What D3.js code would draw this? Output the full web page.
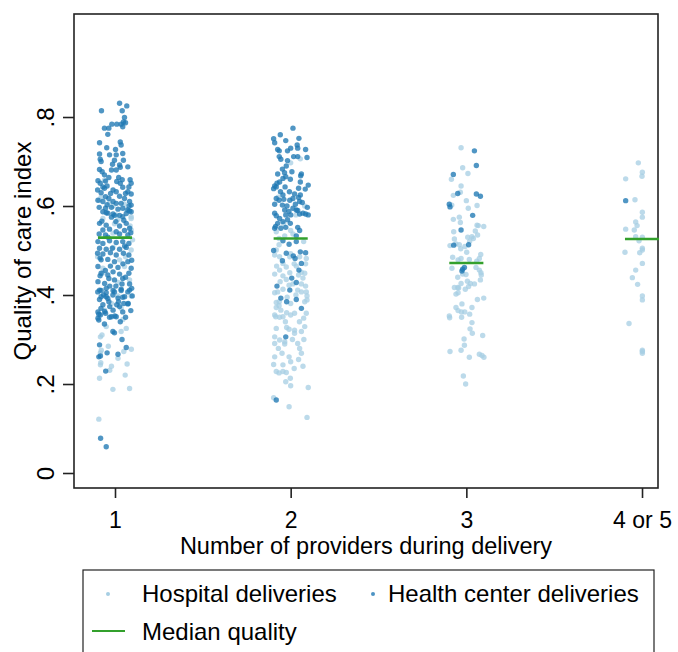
<!DOCTYPE html>
<html>
<head>
<meta charset="utf-8">
<script src="https://cdn.jsdelivr.net/npm/d3@7"></script>
<style>
  body { margin: 0; background: #fff; }
  svg { font-family: "Liberation Sans", Arial, sans-serif; }
</style>
</head>
<body>
<div id="chart"></div>
<script>
// categories and labels
var groups = [1, 2, 3, 4];
var groupLabels = ["1", "2", "3", "4 or 5"];
var yTicks = [0, 0.2, 0.4, 0.6, 0.8];
var yTickLabels = ["0", ".2", ".4", ".6", ".8"];
var medians = [0.529, 0.527, 0.472, 0.526];

// points: [jitter, quality]
var hosp1 = [[-0.088,0.613],[0.092,0.576],[0.092,0.546],[0.100,0.524],[0.007,0.580],[-0.060,0.658],[-0.031,0.607],[0.064,0.591],
  [-0.099,0.486],[-0.071,0.449],[0.060,0.486],[0.083,0.434],[-0.079,0.620],[-0.011,0.600],[0.054,0.604],
  [-0.069,0.572],[0.017,0.570],[0.092,0.572],[-0.003,0.560],[0.086,0.555],[-0.011,0.539],[-0.011,0.507],[0.092,0.501],
  [0.026,0.479],[-0.069,0.460],[0.054,0.464],[0.017,0.428],[0.017,0.398],[0.092,0.398],[-0.020,0.381],[-0.050,0.329],
  [0.035,0.318],[0.064,0.325],[-0.083,0.306],[-0.074,0.310],[-0.038,0.285],[0.093,0.278],[-0.083,0.270],
  [-0.078,0.276],[0.050,0.273],[0.017,0.258],[-0.081,0.248],[-0.083,0.243],[-0.020,0.240],[0.069,0.245],[-0.030,0.231],
  [0.058,0.220],[-0.088,0.213],[-0.012,0.188],[0.083,0.190],[-0.092,0.121],[0.035,0.370],[-0.059,0.366],[0.045,0.345]];

var center1 = [[0.026,0.831],[0.067,0.825],[-0.077,0.814],[0.041,0.814],[0.054,0.799],[0.048,0.789],[-0.018,0.784],[0.010,0.784],
  [0.035,0.784],[0.060,0.787],[-0.060,0.775],[-0.035,0.775],[0.044,0.778],[-0.041,0.761],[-0.088,0.742],[0.030,0.744],
  [0.035,0.737],[-0.047,0.731],[0.003,0.727],[-0.088,0.717],[0.044,0.718],[-0.031,0.715],[0.007,0.715],[-0.084,0.705],
  [-0.079,0.700],[-0.003,0.703],[0.048,0.703],[-0.014,0.694],[0.026,0.692],[0.073,0.688],[-0.088,0.682],[-0.073,0.677],
  [-0.020,0.681],[0.007,0.681],[0.030,0.687],[-0.060,0.670],[-0.035,0.664],[0.021,0.664],[0.041,0.659],[-0.097,0.657],
  [-0.084,0.651],[-0.069,0.643],[-0.054,0.656],[-0.045,0.645],[0.086,0.659],[0.092,0.651],[0.079,0.643],[0.030,0.651],
  [0.044,0.642],[-0.011,0.636],[0.007,0.632],[-0.099,0.636],[-0.079,0.630],[0.073,0.632],[0.092,0.627],[-0.054,0.621],
  [-0.035,0.617],[0.026,0.622],[0.054,0.617],[-0.097,0.613],[-0.069,0.610],[-0.011,0.610],[0.007,0.606],[0.083,0.610],
  [0.092,0.602],[0.035,0.606],[-0.090,0.597],[-0.054,0.595],[-0.020,0.597],[0.017,0.593],[0.044,0.595],[0.073,0.591],
  [0.092,0.587],[-0.069,0.587],[-0.041,0.584],[-0.003,0.579],[0.026,0.579],[-0.050,0.585],[-0.011,0.582],[0.064,0.583],
  [0.083,0.589],[-0.020,0.575],[0.044,0.576],[-0.088,0.561],[-0.050,0.557],[0.026,0.555],[0.064,0.561],[-0.069,0.546],
  [-0.031,0.548],[0.007,0.542],[0.054,0.545],[0.083,0.550],[-0.090,0.537],[-0.054,0.535],[0.026,0.537],[0.073,0.535],
  [-0.097,0.520],[-0.069,0.516],[-0.031,0.522],[0.007,0.518],[0.044,0.520],[0.079,0.516],[-0.088,0.505],[-0.050,0.503],
  [0.026,0.503],[0.064,0.507],[-0.099,0.494],[-0.069,0.492],[-0.026,0.495],[0.007,0.490],[0.048,0.494],[0.079,0.490],
  [-0.079,0.479],[-0.041,0.480],[-0.003,0.475],[0.073,0.475],[-0.097,0.464],[-0.026,0.465],[0.017,0.462],[0.092,0.460],
  [-0.079,0.449],[-0.041,0.445],[-0.011,0.452],[0.026,0.447],[0.079,0.449],[-0.035,0.437],[-0.003,0.434],[0.044,0.437],
  [-0.097,0.430],[-0.059,0.426],[0.083,0.425],[-0.088,0.411],[-0.050,0.415],[-0.011,0.410],[0.035,0.413],[0.073,0.407],
  [-0.079,0.396],[-0.041,0.392],[0.044,0.395],[-0.069,0.378],[0.026,0.374],[0.073,0.380],[-0.097,0.362],[-0.054,0.359],
  [-0.011,0.366],[0.044,0.362],[-0.097,0.348],[-0.031,0.350],[0.007,0.351],[-0.098,0.407],[-0.079,0.410],[-0.050,0.405],
  [-0.003,0.407],[0.035,0.410],[0.083,0.411],[0.098,0.398],[-0.088,0.390],[-0.050,0.396],[-0.012,0.400],[0.017,0.393],
  [0.055,0.396],[0.075,0.381],[-0.030,0.374],[0.010,0.378],[0.050,0.381],[-0.092,0.357],[-0.083,0.355],[-0.059,0.363],
  [-0.020,0.351],[-0.001,0.353],[-0.092,0.344],[-0.012,0.318],[-0.003,0.315],[-0.088,0.288],[0.064,0.282],[0.017,0.267],
  [-0.092,0.261],[-0.083,0.263],[-0.053,0.229],[-0.082,0.078],[-0.050,0.059],
  [-0.060,0.640],[0.010,0.655],[0.060,0.628],[-0.025,0.628],[0.080,0.600],[-0.045,0.603],[0.050,0.568],[-0.075,0.566],
  [0.005,0.565],[0.090,0.540],[-0.040,0.530],[0.055,0.510],[-0.015,0.505],[-0.085,0.483],[0.045,0.470],[0.095,0.478],
  [-0.055,0.455],[0.060,0.440],[-0.085,0.443],[0.005,0.420],[0.040,0.425],[-0.030,0.420],[0.095,0.415],[-0.065,0.400],
  [0.020,0.385],[-0.035,0.385],[0.090,0.365],[-0.080,0.370],[0.030,0.340],[-0.060,0.335],[0.060,0.350],[0.040,0.300],
  [-0.045,0.270]];

var hosp2 = [[0.055,0.706],[0.000,0.697],[0.013,0.537],[-0.082,0.542],[-0.034,0.533],[-0.066,0.527],[0.074,0.520],[-0.066,0.513],
  [-0.082,0.501],[-0.091,0.490],[-0.063,0.486],[-0.005,0.486],[0.000,0.493],[0.051,0.486],[0.089,0.482],[-0.044,0.471],
  [-0.025,0.463],[0.032,0.465],[0.085,0.470],[-0.091,0.447],[-0.063,0.456],[-0.005,0.450],[0.061,0.451],[0.080,0.449],
  [-0.044,0.443],[-0.025,0.435],[0.070,0.438],[-0.009,0.422],[0.013,0.425],[0.061,0.425],[0.085,0.420],[-0.091,0.405],
  [-0.074,0.407],[-0.044,0.413],[0.040,0.411],[0.061,0.407],[0.089,0.407],[0.093,0.398],[-0.082,0.383],[-0.065,0.385],
  [0.000,0.381],[0.080,0.385],[-0.066,0.376],[-0.082,0.372],[-0.056,0.366],[0.093,0.389],[0.022,0.359],[0.000,0.355],
  [-0.023,0.360],[-0.091,0.355],[-0.085,0.351],[0.074,0.348],[0.089,0.359],[-0.063,0.350],[-0.044,0.351],[-0.082,0.325],
  [-0.023,0.327],[-0.009,0.323],[0.022,0.321],[0.061,0.318],[0.080,0.329],[0.022,0.314],[-0.091,0.306],[-0.091,0.291],
  [-0.063,0.299],[-0.034,0.295],[-0.034,0.290],[0.040,0.291],[0.051,0.280],[0.061,0.269],[-0.049,0.269],[-0.091,0.261],
  [-0.009,0.261],[0.000,0.250],[0.045,0.255],[-0.097,0.244],[-0.044,0.243],[-0.082,0.228],[-0.066,0.225],[-0.044,0.228],
  [-0.025,0.226],[-0.002,0.213],[-0.028,0.205],[0.000,0.196],[0.100,0.192],[-0.097,0.169],[-0.009,0.149],[0.093,0.125],
  [-0.070,0.620],[0.030,0.580],[-0.040,0.560],[0.080,0.600],[0.000,0.545],
  [0.020,0.470],[-0.080,0.465],[0.045,0.445],[-0.060,0.430],[0.030,0.400],[-0.020,0.395],[0.050,0.340],[-0.030,0.340],
  [0.010,0.300],[0.075,0.300],[-0.070,0.280],[0.020,0.235],[0.070,0.240]];

var center2 = [[0.013,0.775],[-0.097,0.751],[-0.059,0.760],[-0.091,0.742],[-0.028,0.747],[0.047,0.752],[-0.074,0.727],[-0.065,0.724],
  [-0.018,0.724],[0.000,0.730],[0.037,0.737],[0.040,0.730],[0.085,0.727],[-0.065,0.711],[-0.056,0.705],[0.017,0.711],
  [0.040,0.711],[0.093,0.709],[-0.018,0.702],[-0.047,0.683],[-0.025,0.690],[0.007,0.677],[-0.074,0.672],[-0.035,0.675],
  [0.061,0.672],[0.057,0.668],[-0.091,0.645],[-0.078,0.651],[-0.063,0.654],[-0.044,0.662],[-0.028,0.666],[-0.002,0.660],
  [-0.097,0.639],[-0.082,0.643],[-0.032,0.643],[0.055,0.654],[0.100,0.647],[0.045,0.640],[0.083,0.638],[-0.058,0.632],
  [-0.044,0.625],[-0.007,0.632],[0.022,0.627],[0.055,0.625],[0.045,0.619],[-0.082,0.617],[-0.066,0.613],[-0.039,0.615],
  [-0.005,0.613],[0.013,0.617],[0.027,0.604],[0.051,0.610],[0.066,0.608],[-0.091,0.604],[-0.047,0.602],[-0.021,0.600],
  [0.013,0.595],[0.032,0.591],[0.095,0.597],[-0.091,0.584],[-0.082,0.578],[-0.034,0.591],[-0.028,0.580],[-0.010,0.588],
  [0.000,0.580],[0.040,0.590],[0.051,0.582],[0.070,0.584],[0.085,0.582],[0.100,0.580],[-0.063,0.572],[-0.044,0.565],
  [-0.074,0.561],[-0.018,0.569],[-0.002,0.561],[-0.086,0.554],[-0.091,0.550],[-0.056,0.550],[-0.028,0.552],[0.040,0.552],
  [0.051,0.545],[0.032,0.533],[-0.044,0.522],[0.032,0.520],[-0.009,0.514],[-0.097,0.500],[-0.025,0.494],[0.015,0.488],
  [0.025,0.482],[0.055,0.497],[0.085,0.495],[-0.047,0.477],[0.061,0.471],[0.047,0.456],[0.006,0.438],[0.032,0.428],
  [-0.078,0.420],[-0.005,0.411],[-0.056,0.393],[-0.023,0.385],[0.032,0.390],[0.061,0.370],[-0.028,0.306],[-0.082,0.164]];

var hosp3 = [[-0.030,0.731],[-0.021,0.686],[0.009,0.673],[-0.085,0.660],[-0.030,0.645],[-0.034,0.631],[-0.074,0.624],[0.000,0.612],
  [-0.083,0.602],[0.011,0.595],[0.061,0.601],[-0.074,0.570],[-0.040,0.575],[-0.034,0.563],[0.061,0.557],[0.068,0.556],
  [0.099,0.554],[-0.072,0.542],[0.051,0.544],[0.064,0.535],[0.008,0.530],[0.032,0.531],[0.040,0.527],[0.019,0.521],
  [-0.068,0.526],[-0.093,0.511],[-0.059,0.515],[-0.040,0.513],[-0.032,0.504],[-0.008,0.509],[0.002,0.496],[0.082,0.491],
  [-0.078,0.485],[-0.047,0.479],[-0.030,0.482],[0.017,0.480],[0.059,0.476],[0.074,0.482],[-0.082,0.460],[0.055,0.462],
  [0.074,0.456],[0.083,0.450],[0.085,0.445],[-0.049,0.440],[-0.021,0.447],[-0.002,0.446],[0.080,0.434],[0.006,0.431],
  [0.023,0.426],[0.046,0.425],[-0.068,0.417],[-0.049,0.417],[-0.030,0.426],[-0.044,0.416],[-0.006,0.413],[0.013,0.419],
  [-0.059,0.402],[-0.047,0.405],[0.063,0.390],[0.099,0.393],[-0.059,0.372],[-0.025,0.380],[0.032,0.372],[-0.047,0.365],
  [-0.028,0.362],[-0.009,0.362],[0.019,0.357],[-0.097,0.353],[-0.095,0.349],[-0.027,0.350],[0.032,0.338],[0.021,0.324],
  [0.034,0.314],[0.093,0.309],[-0.013,0.301],[-0.011,0.287],[-0.030,0.276],[-0.093,0.273],[0.017,0.260],[0.074,0.267],
  [0.089,0.264],[0.100,0.260],[-0.017,0.218],[-0.004,0.200]];

var center3 = [[0.046,0.724],[0.057,0.691],[-0.074,0.671],[-0.049,0.628],[0.057,0.627],[0.080,0.622],[-0.097,0.604],[-0.093,0.598],
  [0.036,0.579],[-0.030,0.546],[-0.072,0.512],[0.013,0.513],[-0.011,0.462],[-0.021,0.458],[-0.025,0.454]];

var hosp4 = [[-0.021,0.697],[0.002,0.676],[0.000,0.667],[-0.093,0.661],[-0.040,0.614],[0.002,0.586],[0.002,0.575],[-0.036,0.564],
  [-0.028,0.556],[-0.093,0.548],[-0.044,0.546],[-0.036,0.531],[0.002,0.530],[-0.017,0.522],[0.002,0.505],[0.002,0.501],
  [-0.013,0.495],[-0.097,0.496],[0.002,0.471],[-0.036,0.456],[-0.055,0.439],[-0.025,0.424],[0.002,0.398],[0.002,0.389],
  [-0.074,0.336],[0.002,0.276],[0.002,0.273],[0.002,0.269]];

var center4 = [[-0.093,0.612]];

var hospital = [hosp1, hosp2, hosp3, hosp4];
var healthCenter = [center1, center2, center3, center4];

var width = 678, height = 652;
var frame = {left: 74, right: 658, top: 14, bottom: 488};

var svg = d3.select("#chart").append("svg")
    .attr("width", width)
    .attr("height", height);

var x = d3.scaleLinear().domain([0.7666, 4.091]).range([frame.left, frame.right]);
var y = d3.scaleLinear().domain([-0.0337, 1.0315]).range([frame.bottom, frame.top]);

// plot frame
svg.append("rect")
    .attr("x", frame.left).attr("y", frame.top)
    .attr("width", frame.right - frame.left)
    .attr("height", frame.bottom - frame.top)
    .style("fill", "none")
    .style("stroke", "#222")
    .style("stroke-width", 1.6);

// points, one layer per delivery type
function drawPoints(sets, cls, color, op) {
  var flat = [];
  sets.forEach(function(s, i) {
    s.forEach(function(p) { flat.push({g: groups[i], j: p[0], v: p[1]}); });
  });
  svg.append("g").attr("class", cls).selectAll("circle")
      .data(flat).enter().append("circle")
      .attr("cx", function(d) { return x(d.g + d.j); })
      .attr("cy", function(d) { return y(d.v); })
      .attr("r", 2.7)
      .style("fill", color)
      .style("fill-opacity", op);
}
drawPoints(hospital, "hosp", "#a6cee3", 0.75);
drawPoints(healthCenter, "center", "#1f78b4", 0.78);

// medians
svg.append("g").selectAll("line")
    .data(medians).enter().append("line")
    .attr("x1", function(d, i) { return x(groups[i] - 0.097); })
    .attr("x2", function(d, i) { return x(groups[i] + 0.097); })
    .attr("y1", function(d) { return y(d); })
    .attr("y2", function(d) { return y(d); })
    .style("stroke", "#33a02c")
    .style("stroke-width", 2.6);

// y axis
var yAxis = d3.axisLeft(y).tickValues(yTicks)
    .tickSize(11)
    .tickFormat(function(d, i) { return yTickLabels[i]; });
var gy = svg.append("g").attr("transform", "translate(" + frame.left + ",0)").call(yAxis);
gy.select(".domain").remove();
gy.selectAll(".tick line").style("stroke", "#222").style("stroke-width", 1.6);
gy.selectAll(".tick text")
    .attr("x", null).attr("dy", null)
    .attr("transform", "translate(-20,0) rotate(-90)")
    .attr("text-anchor", "middle")
    .style("font-size", "24px")
    .style("font-family", "Liberation Sans, Arial, sans-serif")
    .style("fill", "#000");

// x axis
var xAxis = d3.axisBottom(x).tickValues(groups)
    .tickSize(10)
    .tickFormat(function(d, i) { return groupLabels[i]; });
var gx = svg.append("g").attr("transform", "translate(0," + frame.bottom + ")").call(xAxis);
gx.select(".domain").remove();
gx.selectAll(".tick line").style("stroke", "#222").style("stroke-width", 1.6);
gx.selectAll(".tick text")
    .attr("y", 40).attr("dy", null)
    .style("font-size", "23px")
    .style("font-family", "Liberation Sans, Arial, sans-serif")
    .style("fill", "#000");

// titles
svg.append("text")
    .attr("x", (frame.left + frame.right) / 2)
    .attr("y", 554)
    .attr("text-anchor", "middle")
    .style("font-size", "23.5px")
    .text("Number of providers during delivery");

svg.append("text")
    .attr("transform", "translate(31," + (frame.top + frame.bottom) / 2 + ") rotate(-90)")
    .attr("text-anchor", "middle")
    .style("font-size", "24px")
    .text("Quality of care index");

// legend
var lg = svg.append("g").attr("class", "legend");
lg.append("rect")
    .attr("x", 83).attr("y", 570)
    .attr("width", 571).attr("height", 120)
    .style("fill", "#fff")
    .style("stroke", "#222")
    .style("stroke-width", 1.2);
lg.append("circle").attr("cx", 108).attr("cy", 594).attr("r", 2)
    .style("fill", "#a6cee3");
lg.append("text").attr("x", 142).attr("y", 602).style("font-size", "24px")
    .text("Hospital deliveries");
lg.append("circle").attr("cx", 373).attr("cy", 594).attr("r", 2)
    .style("fill", "#1f78b4").style("fill-opacity", 0.8);
lg.append("text").attr("x", 388).attr("y", 602).style("font-size", "24px")
    .text("Health center deliveries");
lg.append("line").attr("x1", 92).attr("x2", 125).attr("y1", 631).attr("y2", 631)
    .style("stroke", "#33a02c").style("stroke-width", 2);
lg.append("text").attr("x", 142).attr("y", 640).style("font-size", "24px")
    .text("Median quality");
</script>
</body>
</html>
